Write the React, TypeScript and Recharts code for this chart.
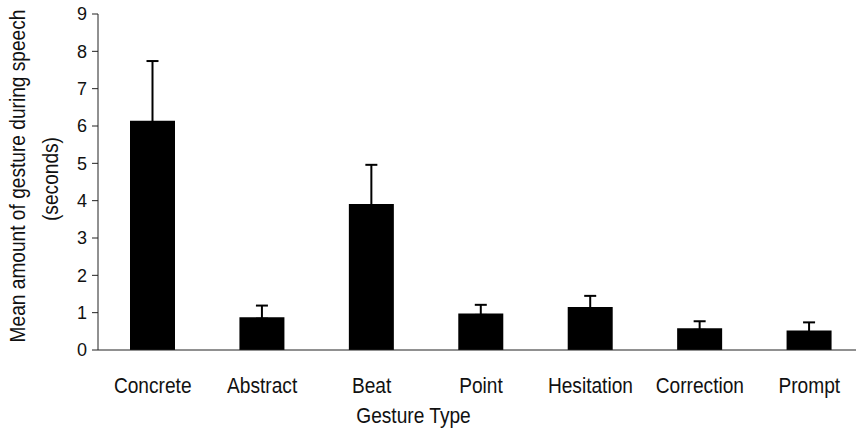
import { Bar, BarChart, ErrorBar, XAxis, YAxis } from 'recharts';

const categories = ['Concrete', 'Abstract', 'Beat', 'Point', 'Hesitation', 'Correction', 'Prompt'];
const meanSeconds = [6.14, 0.88, 3.91, 0.98, 1.15, 0.58, 0.52];
const errorUpper = [1.6, 0.31, 1.05, 0.23, 0.3, 0.19, 0.22];
const yTicks = [0, 1, 2, 3, 4, 5, 6, 7, 8, 9];

// the original only shows the upper whisker; keep the lower cap just inside the bar
const HIDDEN_LOW = 0.04;

const data = categories.map((type, i) => ({
  type,
  mean: meanSeconds[i],
  err: [HIDDEN_LOW, errorUpper[i]],
}));

const FONT = 'Liberation Sans, Arial, Helvetica, sans-serif';
const INK = '#111';
const NARROW = 0.87; // the original uses a condensed face

const XTick = ({ x, y, payload }: any) => (
  <text
    transform={`translate(${x},${y + 43}) scale(${NARROW},1)`}
    textAnchor="middle"
    fontSize={22}
    fontFamily={FONT}
    fill={INK}
  >
    {payload.value}
  </text>
);

const XTitle = ({ viewBox }: any) => (
  <text
    transform={`translate(${viewBox.x + 315.5},${viewBox.y + 73}) scale(${NARROW},1)`}
    textAnchor="middle"
    fontSize={22}
    fontFamily={FONT}
    fill={INK}
  >
    Gesture Type
  </text>
);

const YTitle = () => (
  <g fontSize={22} fontFamily={FONT} fill={INK} textAnchor="middle">
    <text transform={`translate(25,176) rotate(-90) scale(${NARROW},1)`}>
      Mean amount of gesture during speech
    </text>
    <text transform={`translate(58,179) rotate(-90) scale(${NARROW},1)`}>(seconds)</text>
  </g>
);

export default function App() {
  return (
    <div
      style={{
        position: 'absolute',
        left: 0,
        top: 0,
        width: 856,
        height: 434,
        overflow: 'hidden',
        background: '#fff',
      }}
    >
      <BarChart
        width={866}
        height={434}
        data={data}
        margin={{ top: 14, right: 2, left: 0, bottom: 0 }}
        barSize={45}
      >
        <XAxis
          dataKey="type"
          interval={0}
          tickLine={false}
          tickSize={0}
          tickMargin={0}
          height={84}
          axisLine={{ stroke: '#222', strokeWidth: 1 }}
          tick={(props: any) => <XTick {...props} />}
          label={{ content: (props: any) => <XTitle {...props} /> }}
        />
        <YAxis
          width={98}
          domain={[0, 9]}
          ticks={yTicks}
          interval={0}
          tickSize={6}
          tickMargin={5}
          axisLine={{ stroke: '#222', strokeWidth: 1 }}
          tickLine={{ stroke: '#222', strokeWidth: 1 }}
          tick={{ fontSize: 18, fontFamily: FONT, fill: INK }}
          label={{ content: () => <YTitle /> }}
        />
        <Bar dataKey="mean" fill="#000" isAnimationActive={false}>
          <ErrorBar
            dataKey="err"
            direction="y"
            width={6}
            stroke="#000"
            strokeWidth={2}
            isAnimationActive={false}
          />
        </Bar>
      </BarChart>
    </div>
  );
}
